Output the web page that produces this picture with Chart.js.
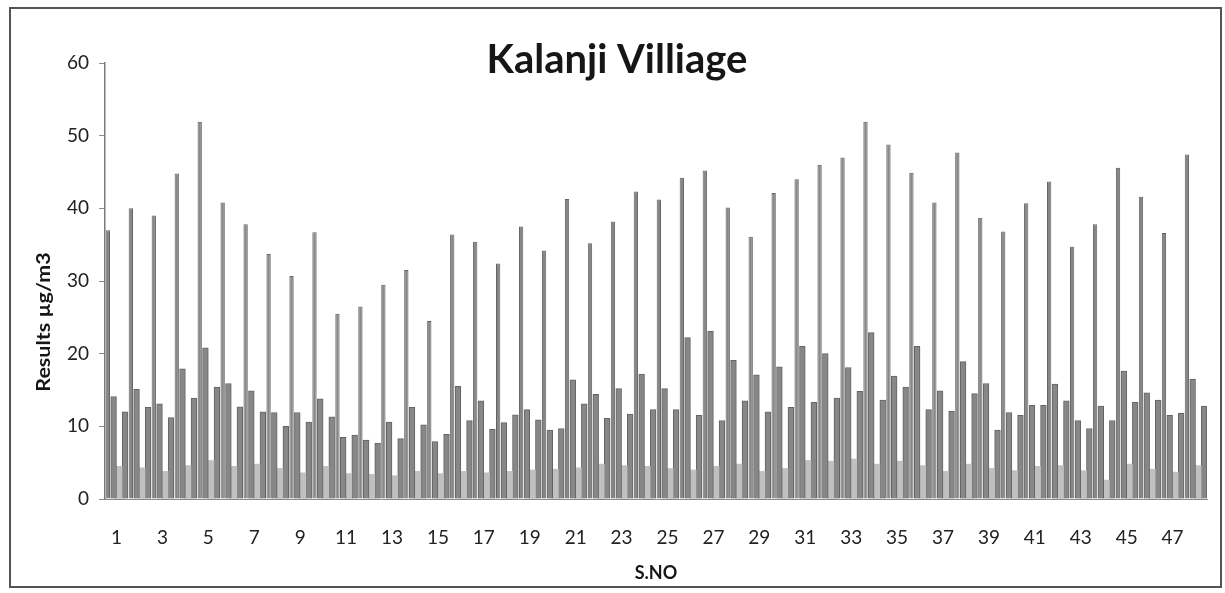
<!DOCTYPE html>
<html>
<head>
<meta charset="utf-8">
<title>Kalanji Villiage</title>
<script src="https://cdn.jsdelivr.net/npm/chart.js@4.4.1/dist/chart.umd.min.js"></script>
<style>
	html, body { margin: 0; padding: 0; background: #fff; }
	canvas { display: block; }
</style>
</head>
<body>
<canvas id="chart" width="1225" height="593"></canvas>
<script>
(function () {
	'use strict';

	// S.NO 1..48
	const sno = [];
	for (let i = 1; i <= 48; i++) sno.push(String(i));

	// tall narrow bars
	const seriesTall = [37.0, 40.0, 39.0, 44.8, 51.9, 40.8, 37.8, 33.7, 30.7, 36.7,
		25.5, 26.5, 29.5, 31.5, 24.5, 36.4, 35.4, 32.4, 37.5, 34.2,
		41.3, 35.2, 38.2, 42.3, 41.2, 44.2, 45.2, 40.1, 36.1, 42.1,
		44.0, 46.0, 47.0, 51.9, 48.8, 44.9, 40.8, 47.7, 38.7, 36.8,
		40.7, 43.7, 34.7, 37.8, 45.6, 41.6, 36.6, 47.4];
	// second bar in each group
	const seriesMid = [14.1, 15.1, 13.1, 17.9, 20.8, 15.9, 14.9, 11.9, 11.9, 13.8,
		8.5, 8.1, 10.6, 12.6, 7.9, 15.5, 13.5, 10.5, 12.3, 9.5,
		16.4, 14.4, 15.2, 17.2, 15.2, 22.2, 23.1, 19.1, 17.1, 18.2,
		21.0, 20.0, 18.1, 22.9, 16.9, 21.0, 14.9, 18.9, 15.9, 11.9,
		12.9, 15.8, 10.8, 12.8, 17.6, 14.6, 11.5, 16.5];
	// light grey low bars
	const seriesLow = [4.5, 4.3, 3.8, 4.6, 5.3, 4.5, 4.8, 4.2, 3.6, 4.5,
		3.5, 3.4, 3.2, 3.8, 3.5, 3.8, 3.6, 3.8, 4.0, 4.1,
		4.3, 4.8, 4.6, 4.5, 4.2, 4.0, 4.5, 4.8, 3.8, 4.2,
		5.3, 5.2, 5.5, 4.8, 5.2, 4.6, 3.8, 4.8, 4.2, 3.9,
		4.5, 4.6, 3.9, 2.6, 4.8, 4.1, 3.7, 4.6];
	// last bar in each group
	const seriesLast = [12.0, 12.6, 11.2, 13.9, 15.4, 12.7, 12.0, 10.0, 10.6, 11.3,
		8.8, 7.7, 8.3, 10.2, 8.9, 10.8, 9.6, 11.6, 10.9, 9.7,
		13.1, 11.1, 11.7, 12.3, 12.3, 11.5, 10.8, 13.5, 12.0, 12.6,
		13.3, 13.9, 14.8, 13.6, 15.4, 12.3, 12.1, 14.5, 9.5, 11.5,
		12.9, 13.5, 9.7, 10.8, 13.3, 13.6, 11.8, 12.8];

	const chartTitle = 'Kalanji Villiage';
	const yTitle = 'Results µg/m3';
	const xTitle = 'S.NO';

	const barGrey = '#878787';
	const edgeGrey = '#636363';
	const lightGrey = '#c0c0c0';

	Chart.defaults.font.family = 'Lato';

	const decorations = {
		id: 'decorations',
		afterDraw(chart) {
			const ctx = chart.ctx;
			ctx.save();
			ctx.strokeStyle = '#555';
			ctx.lineWidth = 2;
			ctx.strokeRect(10, 8, 1211, 579);

			ctx.fillStyle = '#161616';
			ctx.textAlign = 'center';
			ctx.textBaseline = 'middle';
			ctx.font = 'bold 40px Lato';
			ctx.fillText(chartTitle, 617, 60);

			ctx.translate(44, 322);
			ctx.rotate(-Math.PI / 2);
			ctx.scale(1.13, 1);
			ctx.font = 'bold 19px Lato';
			ctx.fillText(yTitle, 0, 0);
			ctx.restore();
		}
	};

	new Chart(document.getElementById('chart'), {
		type: 'bar',
		data: {
			labels: sno,
			datasets: [
				{ data: seriesTall, backgroundColor: barGrey, borderColor: edgeGrey, borderWidth: 1, barPercentage: 0.75, categoryPercentage: 1.0 },
				{ data: seriesMid, backgroundColor: barGrey, borderColor: edgeGrey, borderWidth: 1, barPercentage: 1.0, categoryPercentage: 1.0 },
				{ data: seriesLow, backgroundColor: lightGrey, borderWidth: 0, barPercentage: 1.0, categoryPercentage: 1.0 },
				{ data: seriesLast, backgroundColor: barGrey, borderColor: edgeGrey, borderWidth: 1, barPercentage: 1.0, categoryPercentage: 1.0 }
			]
		},
		options: {
			responsive: false,
			animation: false,
			devicePixelRatio: 1,
			layout: {
				padding: { left: 0, right: 18, top: 63, bottom: 0 }
			},
			plugins: {
				legend: { display: false },
				tooltip: { enabled: false },
				title: { display: false }
			},
			scales: {
				x: {
					grid: { display: false },
					border: { display: true, color: '#8a8a8a', width: 1 },
					ticks: {
						autoSkip: false,
						maxRotation: 0,
						padding: 19,
						color: '#222',
						font: { size: 19 },
						callback: function (value, index) {
							return index % 2 === 0 ? sno[index] : '';
						}
					},
					title: {
						display: true,
						text: xTitle,
						color: '#161616',
						font: { size: 18, weight: 'bold' },
						padding: { top: 0, bottom: 9 }
					},
					afterFit(scale) {
						scale.height = 94;
					}
				},
				y: {
					min: 0,
					max: 60,
					ticks: {
						stepSize: 10,
						padding: 10,
						color: '#222',
						font: { size: 19 }
					},
					grid: {
						display: true,
						drawOnChartArea: false,
						drawTicks: true,
						tickLength: 6,
						color: '#8a8a8a'
					},
					border: { display: true, color: '#7a7a7a', width: 1.5 },
					afterFit(scale) {
						scale.width = 105;
					}
				}
			}
		},
		plugins: [decorations]
	});
})();
</script>
</body>
</html>
